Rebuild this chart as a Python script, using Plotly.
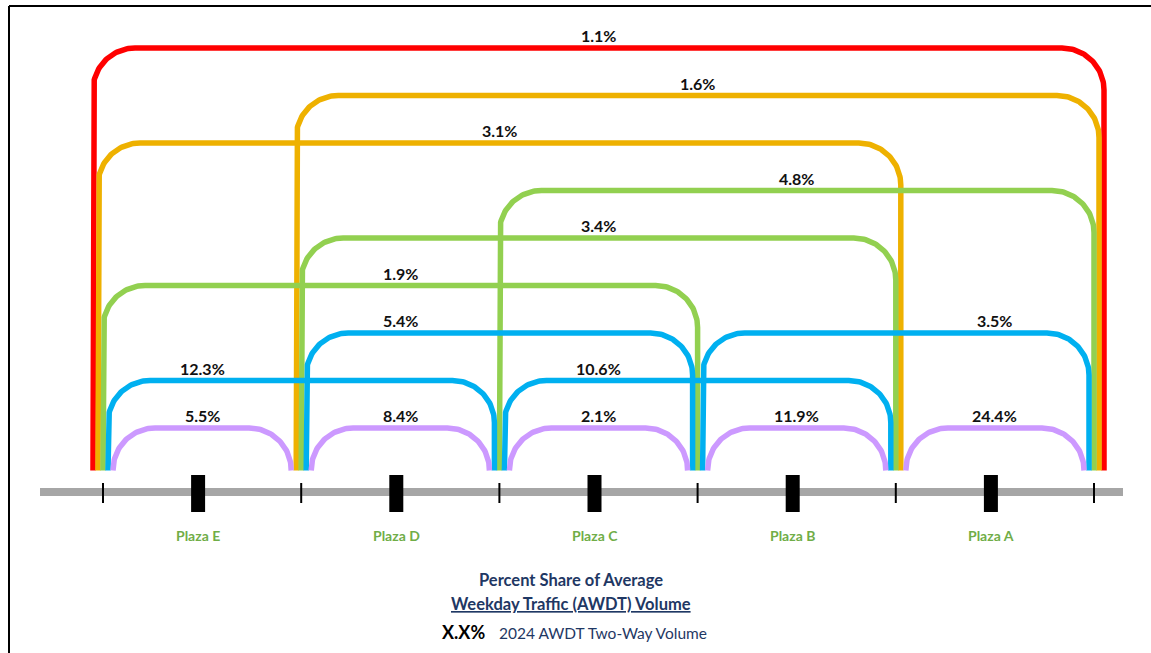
import numpy as np
import plotly.graph_objects as go

# ---- data ---------------------------------------------------------------
plazas = ["Plaza E", "Plaza D", "Plaza C", "Plaza B", "Plaza A"]

# origin-destination links between plaza boundaries (0 = west end, 5 = east end)
link_from = [0, 1, 0, 2, 1, 0, 1, 3, 0, 2, 0, 1, 2, 3, 4]
link_to   = [5, 5, 4, 5, 4, 3, 3, 5, 2, 4, 1, 2, 3, 4, 5]
link_share = [1.1, 1.6, 3.1, 4.8, 3.4, 1.9, 5.4, 3.5, 12.3, 10.6, 5.5, 8.4, 2.1, 11.9, 24.4]
# stacking tier of each link (1 = lowest)
link_tier = [9, 8, 7, 6, 5, 4, 3, 3, 2, 2, 1, 1, 1, 1, 1]
# where each share label sits along the link (None = middle of the link)
label_at = [None, None, None, None, None, None, 1.5, 4.5, 0.5, 2.5, None, None, None, None, None]

span_colors = {1: "#CC99FF", 2: "#00B0F0", 3: "#92D050", 4: "#EEB100", 5: "#FF0000"}

# ---- geometry helpers ---------------------------------------------------
W, H = 1151, 653
X0, UX = 103.0, 198.2      # pixel position of boundary 0, pixels per plaza
Y0, UY = 475.5, 47.5       # pixel position of tier 0, pixels per tier


def dx(p):
    return p / UX


def dy(p):
    return p / UY


LINE_W = 5.5
RADIUS = 42
GAP = 5
BOTTOM = dy(Y0 - 470.5)

fig = go.Figure()

# corridor baseline
fig.add_trace(go.Scatter(x=[dx(40 - X0), dx(1123 - X0)], y=[dy(Y0 - 492)] * 2,
                         mode="lines", line=dict(color="#A6A6A6", width=8),
                         hoverinfo="skip"))

# boundary ticks
for n in range(len(plazas) + 1):
    fig.add_trace(go.Scatter(x=[n, n], y=[dy(Y0 - 483), dy(Y0 - 503)], mode="lines",
                             line=dict(color="black", width=2), hoverinfo="skip"))

# plaza markers
plaza_x = [i + 0.5 - dx(4) for i in range(len(plazas))]
for px in plaza_x:
    fig.add_trace(go.Scatter(x=[px, px], y=[dy(Y0 - 475), dy(Y0 - 512)], mode="lines",
                             line=dict(color="black", width=14), hoverinfo="skip"))


def link_path(a, b, tier):
    span = b - a
    xl = a + dx((3 - span) * GAP)
    xr = b + dx((span - 3) * GAP)
    yt = tier
    rx, ry = dx(RADIUS), dy(RADIUS)
    t = np.linspace(np.pi, np.pi / 2, 40)
    left_x = xl + rx + rx * np.cos(t)
    left_y = yt - ry + ry * np.sin(t)
    t2 = np.linspace(np.pi / 2, 0, 40)
    right_x = xr - rx + rx * np.cos(t2)
    right_y = yt - ry + ry * np.sin(t2)
    xs = np.concatenate([[xl], left_x, right_x, [xr]])
    ys = np.concatenate([[BOTTOM], left_y, right_y, [BOTTOM]])
    return xs, ys


order = sorted(range(len(link_share)), key=lambda i: -link_tier[i])
for i in order:
    a, b, tier = link_from[i], link_to[i], link_tier[i]
    xs, ys = link_path(a, b, tier)
    fig.add_trace(go.Scatter(x=xs, y=ys, mode="lines",
                             line=dict(color=span_colors[b - a], width=LINE_W),
                             hoverinfo="skip"))

annotations = []
for i in range(len(link_share)):
    a, b = link_from[i], link_to[i]
    lx = label_at[i] if label_at[i] is not None else (a + b) / 2
    annotations.append(dict(x=lx, y=link_tier[i], xref="x", yref="y",
                            text=f"<b>{link_share[i]:.1f}%</b>", showarrow=False,
                            yanchor="bottom", yshift=1,
                            font=dict(family="Lato", size=16, color="#111111")))

for name, px in zip(plazas, plaza_x):
    annotations.append(dict(x=px, y=dy(Y0 - 535), xref="x", yref="y",
                            text=f"<b>{name}</b>", showarrow=False,
                            yanchor="middle",
                            font=dict(family="Lato", size=14, color="#70AD47")))

navy = "#1F3864"
annotations += [
    dict(x=571 / W, y=1 - 580 / H, xref="paper", yref="paper", showarrow=False,
         xanchor="center", yanchor="middle",
         text="<b>Percent Share of Average</b>",
         font=dict(family="Lato", size=16.5, color=navy)),
    dict(x=571 / W, y=1 - 604 / H, xref="paper", yref="paper", showarrow=False,
         xanchor="center", yanchor="middle",
         text="<b><u>Weekday Traffic (AWDT) Volume</u></b>",
         font=dict(family="Lato", size=16.5, color=navy)),
    dict(x=463 / W, y=1 - 632 / H, xref="paper", yref="paper", showarrow=False,
         xanchor="center", yanchor="middle",
         text="<b>X.X%</b>", font=dict(family="Lato", size=18, color="black")),
    dict(x=497 / W, y=1 - 633 / H, xref="paper", yref="paper", showarrow=False,
         xanchor="left", yanchor="middle", text="2024 AWDT Two-Way Volume",
         font=dict(family="Lato", size=15.5, color=navy)),
]

shapes = [
    dict(type="line", xref="paper", yref="paper", x0=9 / W, x1=9 / W, y0=0, y1=1 - 6 / H,
         line=dict(color="black", width=2)),
    dict(type="line", xref="paper", yref="paper", x0=9 / W, x1=1, y0=1 - 6 / H, y1=1 - 6 / H,
         line=dict(color="black", width=2)),
]

fig.update_layout(
    width=W, height=H, margin=dict(l=0, r=0, t=0, b=0),
    paper_bgcolor="white", plot_bgcolor="white", showlegend=False,
    xaxis=dict(range=[-X0 / UX, (W - X0) / UX], visible=False, fixedrange=True),
    yaxis=dict(range=[(Y0 - H) / UY, Y0 / UY], visible=False, fixedrange=True),
    annotations=annotations, shapes=shapes,
)

fig.write_html("out.html")
